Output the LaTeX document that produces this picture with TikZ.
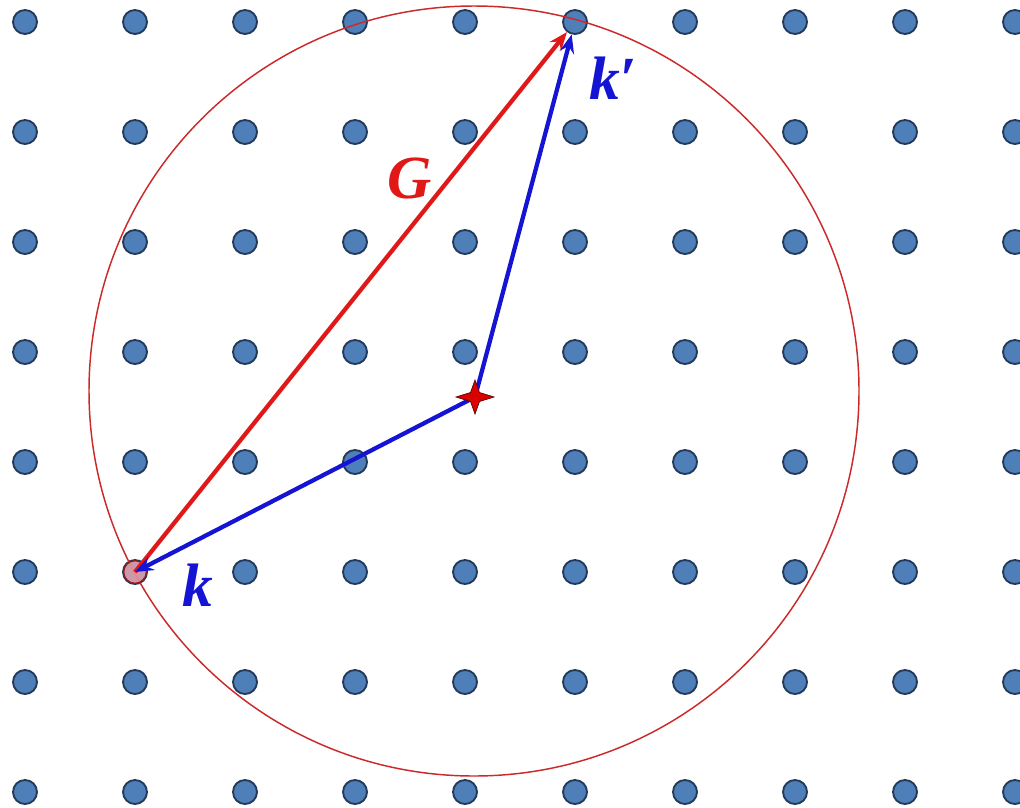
\documentclass[tikz,border=0pt]{standalone}
\usepackage{fontspec}
\setmainfont{Liberation Serif}
\usetikzlibrary{arrows.meta}
\definecolor{dotblue}{HTML}{4F7FB8}
\definecolor{dotedge}{HTML}{243A5A}
\definecolor{kblue}{HTML}{1414D2}
\definecolor{gred}{HTML}{E01818}
\definecolor{ringred}{HTML}{CC2A2A}
\begin{document}
\begin{tikzpicture}[
    x=0.75pt, y=-0.75pt,
    latt/.style={draw=dotedge,fill=dotblue,circle,line width=1.4pt,minimum size=18pt,inner sep=0pt},
    vec/.style={line width=3.2pt,-{Stealth[length=14pt,width=11pt,inset=5pt]}},
    lbl/.style={font=\fontsize{46}{52}\selectfont\bfseries\itshape}
]
\useasboundingbox (0,0) rectangle (1020,807);
\fill[white] (0,0) rectangle (1020,807);
% lattice
\foreach \i in {0,...,9}
  \foreach \j in {0,...,7}
    \node[latt] (p\i\j) at (25+110*\i,22+110*\j) {};
% Ewald sphere
\draw[ringred,line width=1.1pt] (474,391) circle (385);
\node[draw=ringred!70!black,fill=red!35,fill opacity=0.7,circle,line width=1pt,minimum size=17pt,inner sep=0pt] (kdot) at (p15) {};
\coordinate (O) at (475,397);
% vectors
\draw[vec,gred] (kdot.center) -- (p50);
\draw[vec,kblue] (O) -- (kdot.center);
\draw[vec,kblue] (O) -- (p50);
\fill[red!85!black,draw=red!35!black,line width=0.5pt,shift={(O)}]
  (-19,0) -- (-4.5,-4.5) -- (0,-17) -- (4.5,-4.5) -- (19,0) -- (4.5,4.5) -- (0,17) -- (-4.5,4.5) -- cycle;
% labels
\node[lbl,text=kblue] (lk) at (198,585) {k};
\node[lbl,text=kblue] (lkp) at (613,78) {k′};
\node[lbl,text=gred] (lG) at (410,178) {G};
\end{tikzpicture}
\end{document}
